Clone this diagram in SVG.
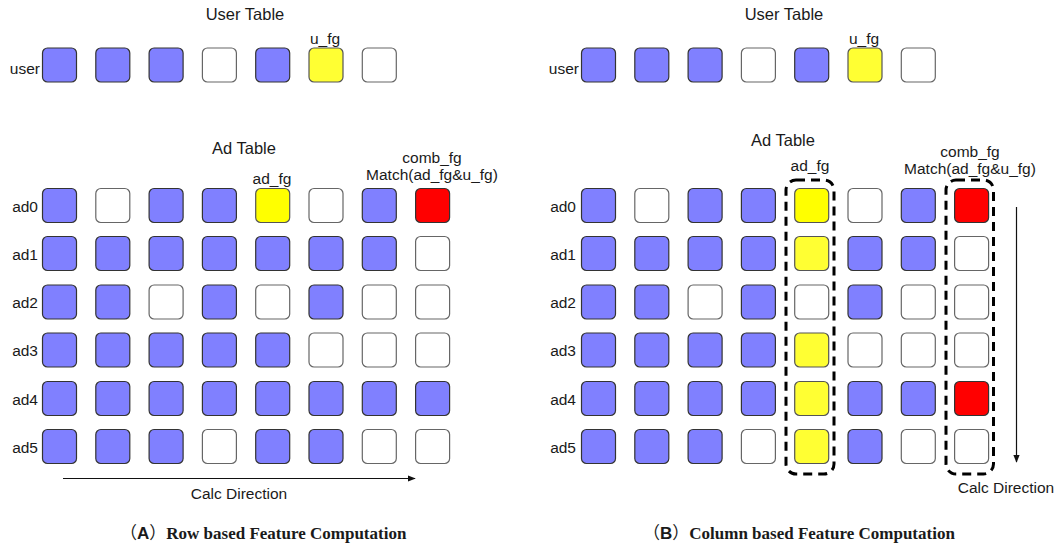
<svg xmlns="http://www.w3.org/2000/svg" width="1057" height="548" viewBox="0 0 1057 548">
<defs>
<style>
text{font-family:"Liberation Sans",Arial,sans-serif;fill:#1a1a1a;}
.t{font-size:16.5px;text-anchor:middle;}
.lr{font-size:15.5px;text-anchor:end;}
.c{font-size:15.5px;text-anchor:middle;}
.cap{font-size:17px;font-weight:bold;}
.ser{font-family:"Liberation Serif","Times New Roman",serif;}
.cjk{font-family:"Noto Sans CJK SC",sans-serif;font-weight:normal;}
rect.b{fill:#8080FF;stroke:#333;stroke-width:1.2;}
rect.w{fill:#FFFFFF;stroke:#666;stroke-width:1.2;}
rect.y{fill:#FFFF33;stroke:#555;stroke-width:1.2;}
rect.y0{fill:#FFFF00;stroke:#555;stroke-width:1.2;}
rect.r{fill:#FF0000;stroke:#333;stroke-width:1.2;}
rect.d{fill:none;stroke:#000;stroke-width:3;stroke-dasharray:9,6;}
.ar{stroke:#111;stroke-width:1.2;fill:none;}
</style>
<marker id="ah" viewBox="0 0 10 10" refX="9" refY="5" markerWidth="8" markerHeight="8" orient="auto" markerUnits="userSpaceOnUse">
<path d="M0,1 L10,5 L0,9 z" fill="#111"/>
</marker>
</defs>

<!-- ===== Panel A ===== -->
<g id="panelA">
<g id="A-user">
<text class="t" x="245" y="20">User Table</text>
<text class="c" x="325" y="44">u_fg</text>
<text class="lr" x="40" y="74">user</text>
<rect class="b" x="42.5" y="48" width="34" height="34" rx="5"/>
<rect class="b" x="95.8" y="48" width="34" height="34" rx="5"/>
<rect class="b" x="149.1" y="48" width="34" height="34" rx="5"/>
<rect class="w" x="202.4" y="48" width="34" height="34" rx="5"/>
<rect class="b" x="255.7" y="48" width="34" height="34" rx="5"/>
<rect class="y" x="309" y="48" width="34" height="34" rx="5"/>
<rect class="w" x="362.3" y="48" width="34" height="34" rx="5"/>
</g>
<g id="A-adtable">
<text class="t" x="244" y="154">Ad Table</text>
<text class="c" x="272" y="184">ad_fg</text>
<text class="c" x="432" y="163">comb_fg</text>
<text class="c" x="432" y="180">Match(ad_fg&amp;u_fg)</text>
<text class="lr" x="38" y="212">ad0</text>
<text class="lr" x="38" y="260">ad1</text>
<text class="lr" x="38" y="308">ad2</text>
<text class="lr" x="38" y="356">ad3</text>
<text class="lr" x="38" y="405">ad4</text>
<text class="lr" x="38" y="453">ad5</text>
<!-- ad0 -->
<rect class="b" x="42.5" y="188.5" width="34" height="34" rx="5"/>
<rect class="w" x="95.8" y="188.5" width="34" height="34" rx="5"/>
<rect class="b" x="149.1" y="188.5" width="34" height="34" rx="5"/>
<rect class="b" x="202.4" y="188.5" width="34" height="34" rx="5"/>
<rect class="y0" x="255.7" y="188.5" width="34" height="34" rx="5"/>
<rect class="w" x="309" y="188.5" width="34" height="34" rx="5"/>
<rect class="b" x="362.3" y="188.5" width="34" height="34" rx="5"/>
<rect class="r" x="415.6" y="188.5" width="34" height="34" rx="5"/>
<!-- ad1 -->
<rect class="b" x="42.5" y="236.5" width="34" height="34" rx="5"/>
<rect class="b" x="95.8" y="236.5" width="34" height="34" rx="5"/>
<rect class="b" x="149.1" y="236.5" width="34" height="34" rx="5"/>
<rect class="b" x="202.4" y="236.5" width="34" height="34" rx="5"/>
<rect class="b" x="255.7" y="236.5" width="34" height="34" rx="5"/>
<rect class="b" x="309" y="236.5" width="34" height="34" rx="5"/>
<rect class="b" x="362.3" y="236.5" width="34" height="34" rx="5"/>
<rect class="w" x="415.6" y="236.5" width="34" height="34" rx="5"/>
<!-- ad2 -->
<rect class="b" x="42.5" y="285" width="34" height="34" rx="5"/>
<rect class="b" x="95.8" y="285" width="34" height="34" rx="5"/>
<rect class="w" x="149.1" y="285" width="34" height="34" rx="5"/>
<rect class="b" x="202.4" y="285" width="34" height="34" rx="5"/>
<rect class="w" x="255.7" y="285" width="34" height="34" rx="5"/>
<rect class="b" x="309" y="285" width="34" height="34" rx="5"/>
<rect class="w" x="362.3" y="285" width="34" height="34" rx="5"/>
<rect class="w" x="415.6" y="285" width="34" height="34" rx="5"/>
<!-- ad3 -->
<rect class="b" x="42.5" y="333" width="34" height="34" rx="5"/>
<rect class="b" x="95.8" y="333" width="34" height="34" rx="5"/>
<rect class="b" x="149.1" y="333" width="34" height="34" rx="5"/>
<rect class="b" x="202.4" y="333" width="34" height="34" rx="5"/>
<rect class="b" x="255.7" y="333" width="34" height="34" rx="5"/>
<rect class="w" x="309" y="333" width="34" height="34" rx="5"/>
<rect class="w" x="362.3" y="333" width="34" height="34" rx="5"/>
<rect class="w" x="415.6" y="333" width="34" height="34" rx="5"/>
<!-- ad4 -->
<rect class="b" x="42.5" y="381.5" width="34" height="34" rx="5"/>
<rect class="b" x="95.8" y="381.5" width="34" height="34" rx="5"/>
<rect class="b" x="149.1" y="381.5" width="34" height="34" rx="5"/>
<rect class="b" x="202.4" y="381.5" width="34" height="34" rx="5"/>
<rect class="b" x="255.7" y="381.5" width="34" height="34" rx="5"/>
<rect class="b" x="309" y="381.5" width="34" height="34" rx="5"/>
<rect class="b" x="362.3" y="381.5" width="34" height="34" rx="5"/>
<rect class="b" x="415.6" y="381.5" width="34" height="34" rx="5"/>
<!-- ad5 -->
<rect class="b" x="42.5" y="429.5" width="34" height="34" rx="5"/>
<rect class="b" x="95.8" y="429.5" width="34" height="34" rx="5"/>
<rect class="b" x="149.1" y="429.5" width="34" height="34" rx="5"/>
<rect class="w" x="202.4" y="429.5" width="34" height="34" rx="5"/>
<rect class="b" x="255.7" y="429.5" width="34" height="34" rx="5"/>
<rect class="b" x="309" y="429.5" width="34" height="34" rx="5"/>
<rect class="w" x="362.3" y="429.5" width="34" height="34" rx="5"/>
<rect class="w" x="415.6" y="429.5" width="34" height="34" rx="5"/>
</g>
<text class="c" x="239" y="499">Calc Direction</text>
<text class="cap" x="120" y="539"><tspan class="cjk">（</tspan><tspan>A</tspan><tspan class="cjk">）</tspan><tspan class="ser">Row based Feature Computation</tspan></text>
</g>

<!-- ===== Panel B ===== -->
<g id="panelB">
<g id="B-user">
<text class="t" x="784" y="20">User Table</text>
<text class="c" x="864" y="44">u_fg</text>
<text class="lr" x="579" y="74">user</text>
<rect class="b" x="581.5" y="48" width="34" height="34" rx="5"/>
<rect class="b" x="634.8" y="48" width="34" height="34" rx="5"/>
<rect class="b" x="688.1" y="48" width="34" height="34" rx="5"/>
<rect class="w" x="741.4" y="48" width="34" height="34" rx="5"/>
<rect class="b" x="794.7" y="48" width="34" height="34" rx="5"/>
<rect class="y" x="848" y="48" width="34" height="34" rx="5"/>
<rect class="w" x="901.3" y="48" width="34" height="34" rx="5"/>
</g>
<g id="B-adtable">
<text class="t" x="783" y="146">Ad Table</text>
<text class="c" x="810" y="171">ad_fg</text>
<text class="c" x="970" y="157">comb_fg</text>
<text class="c" x="970" y="174">Match(ad_fg&amp;u_fg)</text>
<text class="lr" x="576" y="212">ad0</text>
<text class="lr" x="576" y="260">ad1</text>
<text class="lr" x="576" y="308">ad2</text>
<text class="lr" x="576" y="356">ad3</text>
<text class="lr" x="576" y="405">ad4</text>
<text class="lr" x="576" y="453">ad5</text>
<!-- ad0 -->
<rect class="b" x="581.5" y="188.5" width="34" height="34" rx="5"/>
<rect class="w" x="634.8" y="188.5" width="34" height="34" rx="5"/>
<rect class="b" x="688.1" y="188.5" width="34" height="34" rx="5"/>
<rect class="b" x="741.4" y="188.5" width="34" height="34" rx="5"/>
<rect class="y0" x="794.7" y="188.5" width="34" height="34" rx="5"/>
<rect class="w" x="848" y="188.5" width="34" height="34" rx="5"/>
<rect class="b" x="901.3" y="188.5" width="34" height="34" rx="5"/>
<rect class="r" x="954.6" y="188.5" width="34" height="34" rx="5"/>
<!-- ad1 -->
<rect class="b" x="581.5" y="236.5" width="34" height="34" rx="5"/>
<rect class="b" x="634.8" y="236.5" width="34" height="34" rx="5"/>
<rect class="b" x="688.1" y="236.5" width="34" height="34" rx="5"/>
<rect class="b" x="741.4" y="236.5" width="34" height="34" rx="5"/>
<rect class="y" x="794.7" y="236.5" width="34" height="34" rx="5"/>
<rect class="b" x="848" y="236.5" width="34" height="34" rx="5"/>
<rect class="b" x="901.3" y="236.5" width="34" height="34" rx="5"/>
<rect class="w" x="954.6" y="236.5" width="34" height="34" rx="5"/>
<!-- ad2 -->
<rect class="b" x="581.5" y="285" width="34" height="34" rx="5"/>
<rect class="b" x="634.8" y="285" width="34" height="34" rx="5"/>
<rect class="w" x="688.1" y="285" width="34" height="34" rx="5"/>
<rect class="b" x="741.4" y="285" width="34" height="34" rx="5"/>
<rect class="w" x="794.7" y="285" width="34" height="34" rx="5"/>
<rect class="b" x="848" y="285" width="34" height="34" rx="5"/>
<rect class="w" x="901.3" y="285" width="34" height="34" rx="5"/>
<rect class="w" x="954.6" y="285" width="34" height="34" rx="5"/>
<!-- ad3 -->
<rect class="b" x="581.5" y="333" width="34" height="34" rx="5"/>
<rect class="b" x="634.8" y="333" width="34" height="34" rx="5"/>
<rect class="b" x="688.1" y="333" width="34" height="34" rx="5"/>
<rect class="b" x="741.4" y="333" width="34" height="34" rx="5"/>
<rect class="y" x="794.7" y="333" width="34" height="34" rx="5"/>
<rect class="w" x="848" y="333" width="34" height="34" rx="5"/>
<rect class="w" x="901.3" y="333" width="34" height="34" rx="5"/>
<rect class="w" x="954.6" y="333" width="34" height="34" rx="5"/>
<!-- ad4 -->
<rect class="b" x="581.5" y="381.5" width="34" height="34" rx="5"/>
<rect class="b" x="634.8" y="381.5" width="34" height="34" rx="5"/>
<rect class="b" x="688.1" y="381.5" width="34" height="34" rx="5"/>
<rect class="b" x="741.4" y="381.5" width="34" height="34" rx="5"/>
<rect class="y" x="794.7" y="381.5" width="34" height="34" rx="5"/>
<rect class="b" x="848" y="381.5" width="34" height="34" rx="5"/>
<rect class="b" x="901.3" y="381.5" width="34" height="34" rx="5"/>
<rect class="r" x="954.6" y="381.5" width="34" height="34" rx="5"/>
<!-- ad5 -->
<rect class="b" x="581.5" y="429.5" width="34" height="34" rx="5"/>
<rect class="b" x="634.8" y="429.5" width="34" height="34" rx="5"/>
<rect class="b" x="688.1" y="429.5" width="34" height="34" rx="5"/>
<rect class="w" x="741.4" y="429.5" width="34" height="34" rx="5"/>
<rect class="y" x="794.7" y="429.5" width="34" height="34" rx="5"/>
<rect class="b" x="848" y="429.5" width="34" height="34" rx="5"/>
<rect class="w" x="901.3" y="429.5" width="34" height="34" rx="5"/>
<rect class="w" x="954.6" y="429.5" width="34" height="34" rx="5"/>
</g>
<g id="B-groups">
<rect class="d" x="786" y="180" width="48" height="294" rx="10"/>
<rect class="d" x="946" y="180" width="47.5" height="294" rx="10"/>
</g>
<text class="c" x="1006" y="493">Calc Direction</text>
<text class="cap" x="643" y="539"><tspan class="cjk">（</tspan><tspan>B</tspan><tspan class="cjk">）</tspan><tspan class="ser">Column based Feature Computation</tspan></text>
</g>

<!-- ===== Connectors ===== -->
<g id="connectors">
<line class="ar" x1="63" y1="478.5" x2="415" y2="478.5" marker-end="url(#ah)"/>
<line class="ar" x1="1016.5" y1="207" x2="1016.5" y2="462" marker-end="url(#ah)"/>
</g>
</svg>
